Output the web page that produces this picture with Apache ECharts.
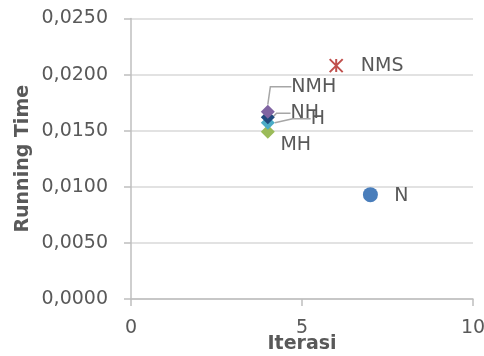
<!DOCTYPE html>
<html>
<head>
<meta charset="utf-8">
<script src="https://cdn.jsdelivr.net/npm/echarts@6/dist/echarts.min.js"></script>
<style>
  html, body { margin: 0; padding: 0; background: #ffffff; }
  #chart { width: 484px; height: 356px; }
</style>
</head>
<body>
<div id="chart"></div>
<script>
// Algorithm variants: iterations vs. running time
const names = ['N', 'NMS', 'NMH', 'NH', 'H', 'MH'];
const iterations = [7, 6, 4, 4, 4, 4];
const runningTimes = [0.0093, 0.0208, 0.0167, 0.0162, 0.0157, 0.0149];
const xTicks = [0, 5, 10];
const yTicks = [0, 0.005, 0.01, 0.015, 0.02, 0.025];

const colors = ['#4A7EBB', '#C0504D', '#8064A2', '#1F497D', '#4BACC6', '#9BBB59'];
const symbols = [
  'circle',
  'path://M0,0L10,10M10,0L0,10M5,0L5,10',
  'diamond', 'diamond', 'diamond', 'diamond'
];
const sizes = [15, 13, 14, 14, 14, 14];
// label placement per point: [dx, dy] from the marker centre
const labelShift = [
  [31, 1],
  [46, 0],
  [46, -25],
  [37, -4],
  [50, -4],
  [28, 13]
];
// leader line: [shown, horizontal run next to the label]
const leaders = [
  [false, 0],
  [false, 0],
  [true, 21],
  [true, 14],
  [true, 18],
  [false, 0]
];

const textColor = '#595959';
const font = '"DejaVu Sans", Verdana, sans-serif';

const series = names.map(function (name, i) {
  const isStar = symbols[i].indexOf('path://') === 0;
  return {
    name: name,
    type: 'scatter',
    symbol: symbols[i],
    symbolSize: sizes[i],
    z: 10 - i,
    itemStyle: isStar
      ? { color: 'rgba(0,0,0,0)', borderColor: colors[i], borderWidth: 2, opacity: 1 }
      : { color: colors[i], opacity: 1 },
    label: {
      show: true,
      formatter: name,
      position: 'inside',
      color: textColor,
      fontFamily: font,
      fontSize: 19
    },
    labelLayout: { dx: labelShift[i][0], dy: labelShift[i][1] },
    labelLine: {
      show: leaders[i][0],
      length2: leaders[i][1],
      lineStyle: { color: '#a6a6a6', width: 1.5 }
    },
    data: [[iterations[i], runningTimes[i]]]
  };
});

const chart = echarts.init(document.getElementById('chart'), null, { renderer: 'canvas' });
chart.setOption({
  animation: false,
  grid: { left: 131, right: 11, top: 18.5, bottom: 57, outerBoundsMode: 'none', containLabel: false },
  xAxis: {
    type: 'value',
    min: xTicks[0],
    max: xTicks[xTicks.length - 1],
    interval: xTicks[1] - xTicks[0],
    name: 'Iterasi',
    nameLocation: 'middle',
    nameGap: 36,
    nameMoveOverlap: false,
    nameTextStyle: { color: textColor, fontFamily: font, fontSize: 19, fontWeight: 'bold' },
    axisLine: { lineStyle: { color: '#bfbfbf', width: 1.5 } },
    axisTick: { show: true, inside: false, length: 7, lineStyle: { color: '#bfbfbf', width: 1.5 } },
    axisLabel: { color: textColor, fontFamily: font, fontSize: 19, margin: 20, showMaxLabel: true },
    splitLine: { show: false }
  },
  yAxis: {
    type: 'value',
    min: yTicks[0],
    max: yTicks[yTicks.length - 1],
    interval: yTicks[1] - yTicks[0],
    name: 'Running Time',
    nameLocation: 'middle',
    nameGap: 98,
    nameMoveOverlap: false,
    nameTextStyle: { color: textColor, fontFamily: font, fontSize: 19, fontWeight: 'bold' },
    axisLine: { show: true, lineStyle: { color: '#bfbfbf', width: 1.5 } },
    axisTick: { show: true, length: 7, lineStyle: { color: '#bfbfbf', width: 1.5 } },
    axisLabel: {
      color: textColor, fontFamily: font, fontSize: 19, margin: 23,
      formatter: function (v) { return v.toFixed(4).replace('.', ','); }
    },
    splitLine: { show: true, lineStyle: { color: '#d9d9d9', width: 1.5 } }
  },
  series: series
});
</script>
</body>
</html>
